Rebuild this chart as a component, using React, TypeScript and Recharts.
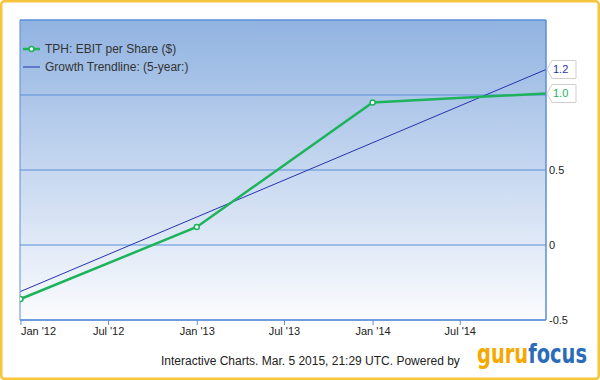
import React from "react";
import {
  CartesianGrid,
  Line,
  LineChart,
  ReferenceArea,
  XAxis,
  YAxis,
} from "recharts";

// TPH EBIT per share, fiscal points (last one is TTM)
const ebitDates = ["2011-12-31", "2012-12-31", "2013-12-31", "2014-12-26"];
const ebitValues = [-0.36, 0.12, 0.95, 1.01];

// 5-year growth trendline end points
const trendDates = ["2011-12-31", "2014-12-26"];
const trendValues = [-0.31, 1.17];

const xTickDates = ["2012-01-01", "2012-07-01", "2013-01-01", "2013-07-01", "2014-01-01", "2014-07-01"];
const xTickLabels = ["Jan '12", "Jul '12", "Jan '13", "Jul '13", "Jan '14", "Jul '14"];
const yTicks = [-0.5, 0, 0.5, 1, 1.5];
const yLabelled = [-0.5, 0, 0.5];

const xDomain = [Date.parse("2011-12-30"), Date.parse("2014-12-26")];

const ebitData = ebitDates.map((d, i) => ({ t: Date.parse(d), v: ebitValues[i] }));
const trendData = trendDates.map((d, i) => ({ t: Date.parse(d), v: trendValues[i] }));
const xTicks = xTickDates.map((d) => Date.parse(d));

const FONT = "'Liberation Sans', Arial, sans-serif";
const GREEN = "#1cb35a";
const NAVY = "#2633b0";
const GRID = "#5b8fd9";

function XTick(props: any) {
  const { x, y, payload } = props;
  const i = xTicks.indexOf(payload.value);
  return (
    <text
      x={x}
      y={y}
      dy="0.71em"
      textAnchor={i === 0 ? "start" : "middle"}
      fontSize={11}
      fontFamily={FONT}
      fill="#222"
    >
      {xTickLabels[i]}
    </text>
  );
}

function YTick(props: any) {
  const { x, y, payload } = props;
  if (!yLabelled.includes(payload.value)) return null;
  return (
    <text x={x} y={y} dy="0.36em" textAnchor="start" fontSize={11} fontFamily={FONT} fill="#222">
      {String(payload.value)}
    </text>
  );
}

function EbitDot(props: any) {
  const { cx, cy, index } = props;
  if (index === ebitData.length - 1) return <g key={index} />;
  return <circle key={index} cx={cx} cy={cy} r={2.5} fill="#fff" stroke={GREEN} strokeWidth={1.5} />;
}

function flag(color: string, last: number) {
  return (props: any) => {
    const { x, y, index, value } = props;
    if (index !== last) return null;
    const d = `M${x + 1},${y} L${x + 6},${y - 9} L${x + 30},${y - 9} L${x + 30},${y + 9} L${x + 6},${y + 9} Z`;
    return (
      <g>
        <path d={d} fill="#fff" stroke="#cfcfcf" strokeWidth={1} />
        <text x={x + 7} y={y} dy="0.36em" fontSize={11} fontFamily={FONT} fill={color}>
          {Number(value).toFixed(1)}
        </text>
      </g>
    );
  };
}

export default function App() {
  return (
    <div style={{ position: "absolute", left: 0, top: 0, width: 600, height: 380, background: "#fff" }}>
      <LineChart width={600} height={380} margin={{ top: 20, left: 20, right: 14, bottom: 30 }}>
        <defs>
          <linearGradient id="bgFill" x1="0" x2="0" y1="0" y2="1">
            <stop offset="0%" stopColor="#91b3e1" />
            <stop offset="100%" stopColor="#fbfcfe" />
          </linearGradient>
        </defs>
        <CartesianGrid vertical={false} stroke={GRID} fill="url(#bgFill)" fillOpacity={1} />
        <XAxis
          dataKey="t"
          type="number"
          domain={xDomain}
          ticks={xTicks}
          interval={0}
          allowDataOverflow
          height={30}
          tickSize={5}
          tickMargin={2}
          tickLine={{ stroke: GRID }}
          axisLine={{ stroke: GRID }}
          tick={<XTick />}
        />
        <YAxis
          orientation="right"
          type="number"
          domain={[-0.5, 1.5]}
          ticks={yTicks}
          interval={0}
          width={40}
          tickSize={0}
          tickMargin={3}
          tickLine={false}
          axisLine={{ stroke: GRID }}
          tick={<YTick />}
        />
        <ReferenceArea x1={xDomain[0]} x2={xDomain[1]} y1={-0.5} y2={1.5} fill="none" stroke={GRID} strokeOpacity={1} />
        <Line
          data={trendData}
          dataKey="v"
          type="linear"
          stroke={NAVY}
          strokeWidth={1}
          dot={false}
          isAnimationActive={false}
          label={flag(NAVY, trendData.length - 1)}
        />
        <Line
          data={ebitData}
          dataKey="v"
          type="linear"
          stroke={GREEN}
          strokeWidth={2.5}
          dot={<EbitDot />}
          isAnimationActive={false}
          label={flag(GREEN, ebitData.length - 1)}
        />
      </LineChart>
      <svg width={600} height={380} style={{ position: "absolute", left: 0, top: 0, pointerEvents: "none" }}>
        <rect x={1.25} y={1.25} width={597.5} height={377.5} rx={3} fill="none" stroke="#f7c53d" strokeWidth={2.5} />
        <line x1={23} x2={40} y1={49} y2={49} stroke={GREEN} strokeWidth={2.5} />
        <circle cx={31.5} cy={49} r={2.5} fill="#fff" stroke={GREEN} strokeWidth={1.5} />
        <text x={45} y={53} fontSize={12} fontFamily={FONT} fill="#333">
          TPH: EBIT per Share ($)
        </text>
        <line x1={23} x2={40} y1={67} y2={67} stroke={NAVY} strokeWidth={1} />
        <text x={45} y={71} fontSize={12} fontFamily={FONT} fill="#333">
          Growth Trendline: (5-year:)
        </text>
        <text x={161} y={365} fontSize={12} fontFamily={FONT} fill="#222">
          Interactive Charts. Mar. 5 2015, 21:29 UTC. Powered by
        </text>
        <text
          x={477}
          y={363}
          fontSize={26}
          fontWeight="bold"
          fontFamily="'Liberation Sans Narrow', 'DejaVu Sans Condensed', sans-serif"
          textLength={110}
          lengthAdjust="spacingAndGlyphs"
        >
          <tspan fill="#f6a800">guru</tspan>
          <tspan fill="#2a6cb9">focus</tspan>
        </text>
      </svg>
    </div>
  );
}
